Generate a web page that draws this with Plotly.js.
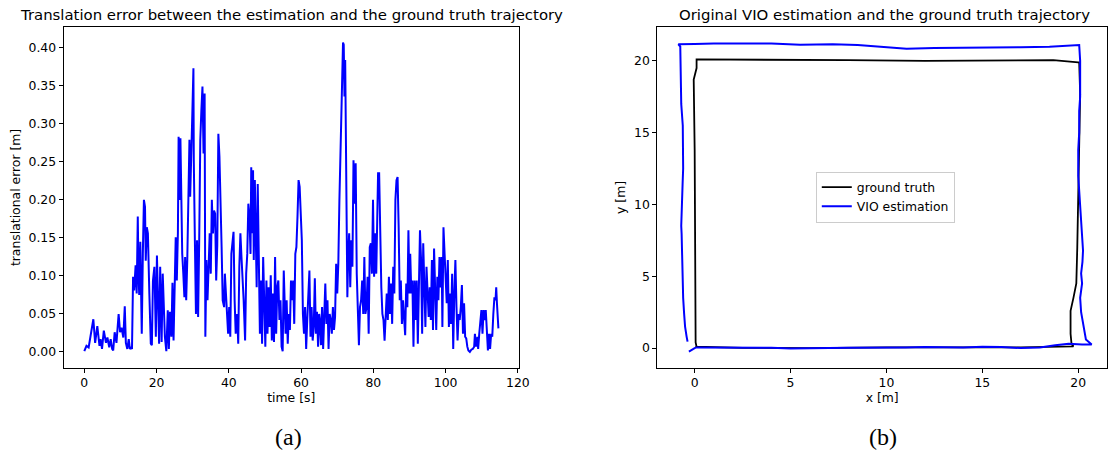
<!DOCTYPE html>
<html>
<head>
<meta charset="utf-8">
<script src="https://cdn.plot.ly/plotly-3.0.1.min.js"></script>
<style>html,body{margin:0;padding:0;background:#fff;}#chart{width:1108px;height:455px;}</style>
</head>
<body>
<div id="chart"></div>
<script>
// (a) translation error over time
const errT = [0,0.6,1.2,1.6,2.0,2.5,3.0,3.6,4.2,4.5,4.9,5.4,6.0,6.4,6.9,7.3,7.7,8.0,8.4,8.9,9.5,9.9,10.3,10.8,11.2,11.5,11.9,12.3,12.6,13.0,13.2,
13.5,13.8,14.2,14.5,14.8,15.0,15.2,15.5,15.9,16.2,16.5,16.8,17.0,17.3,17.6,18.0,18.4,18.7,19.0,19.4,19.8,20.1,20.4,20.7,21.0,21.4,21.7,22.0,22.3,22.7,23.1,23.4,23.7,24.1,24.4,24.7,25.0,25.3,25.6,25.9,26.1,26.4,26.6,26.8,27.1,27.4,27.7,27.9,28.2,28.5,28.8,29.1,29.3,29.6,29.9,30.2,30.3,30.6,30.9,31.2,31.5,31.8,32.1,32.4,32.7,33.0,33.3,33.5,33.8,34.1,34.4,34.7,35.0,35.3,35.6,35.9,36.2,36.5,36.8,37.1,37.4,37.7,38.0,38.3,38.7,38.9,39.2,39.5,39.8,40.1,40.4,40.7,41.0,41.3,41.6,41.9,42.3,42.6,42.9,43.2,43.5,43.8,44.1,44.5,44.8,45.1,45.4,45.7,46.0,46.2,46.5,46.7,46.9,47.2,47.5,47.7,48.0,48.3,48.6,48.9,49.2,49.5,49.8,50.1,50.4,50.7,51.0,51.3,51.6,51.9,52.2,52.5,52.8,53.1,53.4,53.7,54.0,54.3,54.6,54.9,55.2,55.5,55.7,56.0,56.3,56.6,56.9,57.2,57.5,57.8,58.1,58.4,58.7,59.0,59.3,59.6,59.9,60.2,60.5,60.8,61.1,61.4,61.7,62.0,62.3,62.6,62.9,63.2,63.5,63.8,64.1,64.4,64.7,65.0,65.2,65.5,65.8,66.1,66.4,66.7,67.0,67.3,67.6,67.9,68.2,68.5,68.8,69.1,69.4,69.7,70.0,70.3,70.6,70.9,71.1,71.3,71.6,71.8,72.0,72.2,72.4,72.6,72.8,73.0,73.3,73.6,73.9,74.2,74.5,74.8,75.1,75.4,75.7,76.0,76.3,76.6,76.9,77.2,77.5,77.8,78.1,78.4,78.7,79.0,79.3,79.6,79.9,80.2,80.5,80.8,81.0,81.3,81.6,81.9,82.2,82.5,82.8,83.1,83.4,83.7,84.0,84.3,84.6,84.9,85.2,85.5,85.8,86.1,86.4,86.7,87.0,87.3,87.6,87.9,88.2,88.5,88.8,89.1,89.4,89.7,90.0,90.2,90.5,90.8,91.1,91.4,91.7,92.0,92.3,92.6,92.9,93.2,93.5,93.8,94.1,94.4,94.7,95.0,95.3,95.6,95.9,96.2,96.5,96.8,97.1,97.4,97.7,98.0,98.3,98.6,98.9,99.1,99.4,99.7,100.0,100.3,100.6,100.9,101.2,101.5,101.8,102.1,102.4,102.7,103.0,103.3,103.6,103.9,104.2,104.5,104.8,105.1,105.4,105.7,106.0,106.3,106.7,107.1,107.5,107.9,108.1,108.4,108.8,109.0,109.3,109.6,109.9,110.2,110.5,110.8,111.1,111.4,111.7,112.0,112.3,112.6,112.9,113.2,113.5,113.8,114.0,114.2,114.5,114.6];
const errV = [0.001,0.008,0.006,0.017,0.030,0.043,0.012,0.034,0.008,0.017,0.004,0.028,0.012,0.019,0.006,0.017,0.004,0.002,0.026,0.012,0.050,0.026,0.032,0.019,0.060,0.012,0.004,0.017,0.004,0.006,0.004,
0.099,0.081,0.114,0.077,0.178,0.103,0.075,0.145,0.024,0.129,0.200,0.191,0.120,0.164,0.156,0.077,0.011,0.009,0.094,0.112,0.020,0.127,0.068,0.011,0.112,0.013,0.103,0.042,0.020,0.001,0.055,0.004,0.053,0.020,0.091,0.015,0.085,0.151,0.094,0.156,0.283,0.200,0.281,0.213,0.129,0.103,0.072,0.125,0.068,0.121,0.182,0.279,0.204,0.279,0.314,0.373,0.252,0.147,0.050,0.147,0.046,0.147,0.279,0.318,0.349,0.261,0.340,0.020,0.121,0.068,0.125,0.156,0.103,0.200,0.156,0.186,0.182,0.094,0.140,0.287,0.257,0.173,0.138,0.068,0.059,0.103,0.081,0.059,0.024,0.059,0.020,0.129,0.151,0.158,0.068,0.024,0.050,0.011,0.112,0.156,0.125,0.099,0.068,0.015,0.103,0.129,0.195,0.178,0.129,0.243,0.156,0.239,0.121,0.226,0.156,0.085,0.221,0.112,0.024,0.094,0.011,0.125,0.046,0.007,0.094,0.024,0.085,0.033,0.101,0.015,0.077,0.013,0.125,0.024,0.085,0.094,0.042,0.068,0.007,0.001,0.107,0.059,0.024,0.068,0.011,0.050,0.029,0.094,0.068,0.094,0.037,0.129,0.138,0.178,0.226,0.217,0.178,0.147,0.050,0.024,0.059,0.004,0.042,0.068,0.107,0.020,0.059,0.015,0.033,0.097,0.024,0.053,0.007,0.050,0.042,0.009,0.059,0.004,0.064,0.090,0.037,0.068,0.004,0.050,0.042,0.024,0.059,0.029,0.046,0.116,0.077,0.116,0.200,0.252,0.296,0.353,0.407,0.404,0.336,0.384,0.270,0.173,0.072,0.121,0.156,0.085,0.147,0.112,0.252,0.195,0.248,0.103,0.050,0.009,0.059,0.068,0.094,0.050,0.125,0.050,0.059,0.099,0.024,0.138,0.143,0.103,0.200,0.099,0.156,0.103,0.156,0.235,0.235,0.138,0.085,0.050,0.042,0.015,0.050,0.077,0.042,0.099,0.050,0.090,0.037,0.112,0.077,0.200,0.226,0.230,0.164,0.068,0.094,0.037,0.068,0.050,0.022,0.090,0.059,0.160,0.077,0.129,0.077,0.094,0.007,0.094,0.042,0.094,0.011,0.085,0.160,0.121,0.024,0.143,0.059,0.033,0.112,0.068,0.046,0.085,0.042,0.121,0.029,0.136,0.094,0.029,0.099,0.068,0.125,0.085,0.125,0.033,0.164,0.134,0.085,0.064,0.121,0.033,0.077,0.037,0.103,0.004,0.077,0.121,0.059,0.015,0.050,0.042,0.059,0.088,0.024,0.064,0.020,0.018,0.007,0.002,0.000,0.003,0.004,0.007,0.024,0.007,0.020,0.004,0.024,0.037,0.055,0.024,0.055,0.042,0.055,0.029,0.002,0.024,0.004,0.024,0.020,0.050,0.072,0.068,0.085,0.064,0.033,0.031];

// (b) trajectories
const gtX = [0.05,0.1,2.5,6,10,14,17,19.75,19.65,19.6,19.6,19.75,19.9,19.95,20.0,20.1,20.05,20.0,18.7,15,12,8,4,1,0.1,0.1,-0.05,0.0,0.05,0.05,0.1];
const gtY = [0.16,0.1,0.02,0.0,0.05,0.05,0.05,0.12,0.3,1.0,2.6,3.5,4.5,7.0,10.3,17.7,19.9,19.9,20.05,20.0,20.0,20.05,20.1,20.1,20.1,19.5,18.7,13.8,5.0,0.4,0.1];

const vioX = [-0.3,-0.15,0.0,0.1,1,2,3,4,5,6,7,8,9,10,11,12,13,14,15,16,17,18,18.8,19.5,20.2,20.7,20.4,20.3,20.15,20.1,20.2,20.15,20.22,20.25,20.2,20.1,20.05,20.0,20.0,20.05,20.05,20.1,20.1,20.1,20.05,19.5,18.5,17,15.5,14.2,12.5,11.05,10,8.5,7.2,5.5,4,3,2,1,0,-0.85,-0.75,-0.72,-0.72,-0.7,-0.62,-0.59,-0.6,-0.63,-0.68,-0.7,-0.68,-0.66,-0.64,-0.6,-0.55,-0.5,-0.42,-0.37];
const vioY = [-0.25,-0.1,0.0,0.05,0.05,0.05,0.0,0.02,-0.02,-0.03,0.0,0.02,0.03,0.0,0.05,0.08,0.05,0.05,0.1,0.08,0.0,0.05,0.2,0.3,0.25,0.25,0.6,1.5,2.5,3.5,4.5,5.2,6.0,6.8,8.0,9.5,10.7,12.0,13.8,15.0,16.5,17.5,18.9,20.0,21.1,21.05,20.98,20.95,20.95,20.9,20.9,20.85,20.95,21.1,21.15,21.12,21.2,21.2,21.25,21.2,21.18,21.15,21.0,19.5,18.0,17.0,15.5,13.8,12.5,11.4,10.0,8.5,7.95,6.0,4.7,3.5,2.4,1.5,0.8,0.45];

const xTicksA = [0,20,40,60,80,100,120];
const yTicksA = [0,0.05,0.10,0.15,0.20,0.25,0.30,0.35,0.40];
const ticksB = [0,5,10,15,20];

const FONT = 'DejaVu Sans, sans-serif';
const FS = 12.4;
const axBase = {
  showline: true, mirror: true, linecolor: '#000', linewidth: 1,
  ticks: 'outside', ticklen: 4, tickwidth: 1, tickcolor: '#000',
  showgrid: false, zeroline: false, automargin: false,
  tickfont: {family: FONT, size: FS, color: '#000'}
};

const traces = [
  {x: errT, y: errV, type: 'scatter', mode: 'lines', line: {color: '#0000ff', width: 2}, xaxis: 'x', yaxis: 'y', showlegend: false},
  {x: gtX, y: gtY, type: 'scatter', mode: 'lines', name: 'ground truth', line: {color: '#000000', width: 1.8}, xaxis: 'x2', yaxis: 'y2'},
  {x: vioX, y: vioY, type: 'scatter', mode: 'lines', name: 'VIO estimation', line: {color: '#0000ff', width: 2}, xaxis: 'x2', yaxis: 'y2'}
];

const layout = {
  width: 1108, height: 455,
  margin: {l: 0, r: 0, t: 0, b: 0},
  paper_bgcolor: '#fff', plot_bgcolor: '#fff',
  font: {family: FONT, color: '#000'},
  xaxis: Object.assign({}, axBase, {domain: [0.0574, 0.4684], range: [-5.73, 120.3], tickvals: xTicksA,
    title: {text: 'time [s]', font: {family: FONT, size: FS}, standoff: 3}, anchor: 'y'}),
  yaxis: Object.assign({}, axBase, {domain: [0.1923, 0.9398], range: [-0.0204, 0.4268], tickvals: yTicksA, tickformat: '.2f',
    title: {text: 'translational error [m]', font: {family: FONT, size: FS}, standoff: 5}, anchor: 'x'}),
  xaxis2: Object.assign({}, axBase, {domain: [0.5932, 0.9991], range: [-1.95, 21.5], tickvals: ticksB,
    title: {text: 'x [m]', font: {family: FONT, size: FS}, standoff: 3}, anchor: 'y2'}),
  yaxis2: Object.assign({}, axBase, {domain: [0.1923, 0.9398], range: [-1.35, 22.33], tickvals: ticksB,
    title: {text: 'y [m]', font: {family: FONT, size: FS}, standoff: 5}, anchor: 'x2'}),
  legend: {x: 0.799, y: 0.567, xanchor: 'center', yanchor: 'middle', bgcolor: '#fff', bordercolor: '#cccccc', borderwidth: 1,
    font: {family: FONT, size: FS}, tracegroupgap: 0},
  annotations: [
    {text: 'Translation error between the estimation and the ground truth trajectory', xref: 'paper', yref: 'paper',
     x: 291/1108, y: 1 - 15/455, xanchor: 'center', yanchor: 'middle', showarrow: false, font: {family: FONT, size: 14.9}},
    {text: 'Original VIO estimation and the ground truth trajectory', xref: 'paper', yref: 'paper',
     x: 884/1108, y: 1 - 15/455, xanchor: 'center', yanchor: 'middle', showarrow: false, font: {family: FONT, size: 14.9}},
    {text: '(a)', xref: 'paper', yref: 'paper', x: 288/1108, y: 1 - 437/455, xanchor: 'center', yanchor: 'middle', showarrow: false,
     font: {family: 'Liberation Serif, DejaVu Serif, serif', size: 24}},
    {text: '(b)', xref: 'paper', yref: 'paper', x: 883/1108, y: 1 - 437/455, xanchor: 'center', yanchor: 'middle', showarrow: false,
     font: {family: 'Liberation Serif, DejaVu Serif, serif', size: 24}}
  ]
};

Plotly.newPlot('chart', traces, layout, {staticPlot: true, displayModeBar: false});
</script>
</body>
</html>
